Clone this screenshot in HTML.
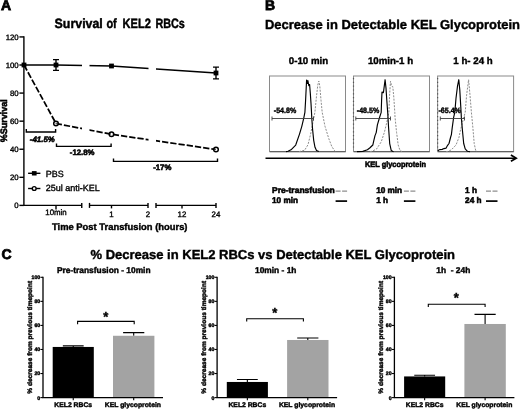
<!DOCTYPE html>
<html lang="en"><head><meta charset="utf-8"><title>Survival of KEL2 RBCs</title>
<style>
html,body{margin:0;padding:0;background:#fff;}
body{width:520px;height:409px;overflow:hidden;}
svg{display:block;filter:blur(0.35px);}
text{font-family:"Liberation Sans",Arial,sans-serif;fill:#000;stroke:#000;stroke-width:0.35px;text-rendering:geometricPrecision;}
.b{font-weight:bold;stroke-width:0.4px;}
.s{stroke-width:0.55px;}
.i{font-style:italic;}
.pl{stroke-width:0.8px;}
.ax{stroke:#000;stroke-width:1.4;fill:none;}
.th{stroke:#000;stroke-width:1.4;fill:none;}
.tc{stroke:#000;stroke-width:1.1;fill:none;}
</style></head><body>
<svg width="520" height="409" viewBox="0 0 520 409">
<rect width="520" height="409" fill="#fff"/>
<g id="panelA">
<text class="b pl" x="0.9" y="10.3" font-size="14">A</text>
<text class="b" x="54.6" y="28.3" font-size="13.5" style="stroke-width:0.45px" textLength="48.2" lengthAdjust="spacingAndGlyphs">Survival</text>
<text class="b" x="106.4" y="28.3" font-size="13.5" style="stroke-width:0.45px" textLength="10.4" lengthAdjust="spacingAndGlyphs">of</text>
<text class="b" x="122.6" y="28.3" font-size="13.5" style="stroke-width:0.45px" textLength="28.2" lengthAdjust="spacingAndGlyphs">KEL2</text>
<text class="b" x="155.4" y="28.3" font-size="13.5" style="stroke-width:0.45px" textLength="29.4" lengthAdjust="spacingAndGlyphs">RBCs</text>
<path class="ax" d="M23.9 36.32V206"/>
<path class="ax" d="M19.4 205.4H23.9"/>
<text x="18.7" y="208.2" font-size="7.8" text-anchor="end">0</text>
<path class="ax" d="M19.4 177.32H23.9"/>
<text x="18.7" y="180.12" font-size="7.8" text-anchor="end">20</text>
<path class="ax" d="M19.4 149.24H23.9"/>
<text x="18.7" y="152.04" font-size="7.8" text-anchor="end">40</text>
<path class="ax" d="M19.4 121.16H23.9"/>
<text x="18.7" y="123.96" font-size="7.8" text-anchor="end">60</text>
<path class="ax" d="M19.4 93.08H23.9"/>
<text x="18.7" y="95.88" font-size="7.8" text-anchor="end">80</text>
<path class="ax" d="M19.4 65H23.9"/>
<text x="18.7" y="67.8" font-size="7.8" text-anchor="end">100</text>
<path class="ax" d="M19.4 36.92H23.9"/>
<text x="18.7" y="39.72" font-size="7.8" text-anchor="end">120</text>
<text class="b s" font-size="9.4" text-anchor="middle" textLength="43" lengthAdjust="spacingAndGlyphs" transform="translate(7.2 120.8) rotate(-90)">%Survival</text>
<path class="ax" d="M23.9 205.4H81.75"/>
<path class="ax" d="M81.75 202.9V207.9"/>
<path class="ax" d="M89.5 205.4H148"/>
<path class="ax" d="M89.5 202.9V207.9"/>
<path class="ax" d="M148 202.9V207.9"/>
<path class="ax" d="M156 205.4H216"/>
<path class="ax" d="M156 202.9V207.9"/>
<path class="ax" d="M216 202.9V207.9"/>
<path class="th" d="M56 205.4V209.4"/>
<path class="th" d="M111.5 205.4V208.4"/>
<path class="th" d="M182 205.4V208.4"/>
<text x="56" y="214.7" font-size="7.9" text-anchor="middle">10min</text>
<text x="111.5" y="216.7" font-size="7.9" text-anchor="middle">1</text>
<text x="148" y="216.7" font-size="7.9" text-anchor="middle">2</text>
<text x="182" y="216.7" font-size="7.9" text-anchor="middle">12</text>
<text x="216" y="216.7" font-size="7.9" text-anchor="middle">24</text>
<text class="b" x="52" y="229.9" font-size="9.4" textLength="135.5" lengthAdjust="spacingAndGlyphs">Time Post Transfusion (hours)</text>
<clipPath id="cA"><rect x="24" y="30" width="58" height="175"/><rect x="89.5" y="30" width="59" height="175"/><rect x="156" y="30" width="66" height="175"/></clipPath>
<g clip-path="url(#cA)">
<polyline class="ax" style="stroke-width:1.6" points="24,65 56,65 111.5,66 216,73"/>
<polyline class="ax" style="stroke-width:1.75" stroke-dasharray="6.3 2" points="24,65 56,123.5 111.5,134.3 216,149.5"/>
</g>
<path class="th" d="M56 59.6V70.4M53 59.6H59M53 70.4H59"/>
<path class="th" d="M216 67.1V78.9M213 67.1H219M213 78.9H219"/>
<rect x="21.6" y="62.6" width="4.8" height="4.8" fill="#000"/>
<rect x="53.6" y="62.6" width="4.8" height="4.8" fill="#000"/>
<rect x="109.1" y="63.6" width="4.8" height="4.8" fill="#000"/>
<rect x="213.6" y="70.6" width="4.8" height="4.8" fill="#000"/>
<circle cx="56" cy="123.5" r="2.3" fill="#fff" fill-opacity="0.35" stroke="#000" stroke-width="1.5"/>
<circle cx="111.5" cy="134.3" r="2.3" fill="#fff" fill-opacity="0.35" stroke="#000" stroke-width="1.5"/>
<circle cx="216" cy="149.5" r="2.3" fill="#fff" fill-opacity="0.35" stroke="#000" stroke-width="1.5"/>
<path class="th" d="M26.3 129V132H55.6V129"/>
<text class="b s i" x="42.3" y="141.8" font-size="7.9" text-anchor="middle">-41.5%</text>
<path class="th" d="M56.5 143.4V146.4H111.1V143.4"/>
<text class="b s" x="82.2" y="154.7" font-size="7.8" text-anchor="middle">-12.8%</text>
<path class="th" d="M113.5 158.4V161.4H217.5V158.4"/>
<text class="b s" x="162.3" y="169.7" font-size="7.8" text-anchor="middle">-17%</text>
<path class="ax" d="M28.1 173.3H40.4"/><rect x="31.9" y="171.1" width="4.7" height="4.4" fill="#000"/>
<text x="45.8" y="176.6" font-size="9">PBS</text>
<path class="ax" d="M28.1 188.5H40.4"/><circle cx="34.2" cy="188.5" r="1.9" fill="#fff" stroke="#000" stroke-width="1.4"/>
<text x="45.8" y="191.3" font-size="9">25ul anti-KEL</text>
</g>
<g id="panelB">
<text class="b pl" x="265" y="10.3" font-size="14">B</text>
<text class="b" x="265" y="28.7" font-size="13" textLength="255" lengthAdjust="spacingAndGlyphs">Decrease in Detectable KEL Glycoprotein</text>
<text class="b" x="308.5" y="63.6" font-size="9.7" text-anchor="middle">0-10 min</text>
<text class="b" x="390.5" y="63.6" font-size="9.7" text-anchor="middle">10min-1 h</text>
<text class="b" x="473" y="63.6" font-size="9.7" text-anchor="middle">1 h- 24 h</text>
<rect x="269.5" y="76" width="76" height="75.7" fill="#fff" stroke="#8a8a8a" stroke-width="1"/>
<path d="M270.0 151.7H345.5" stroke="#555" stroke-width="1" fill="none"/>
<rect x="353.5" y="76" width="76" height="75.7" fill="#fff" stroke="#8a8a8a" stroke-width="1"/>
<path d="M354.0 151.7H429.5" stroke="#555" stroke-width="1" fill="none"/>
<rect x="437.6" y="76" width="76" height="75.7" fill="#fff" stroke="#8a8a8a" stroke-width="1"/>
<path d="M438.1 151.7H513.6" stroke="#555" stroke-width="1" fill="none"/>
<path d="M353.5 78V150" stroke="#555" stroke-width="1.2" stroke-dasharray="1.2 2.6" fill="none"/>
<path d="M437.6 78V150" stroke="#555" stroke-width="1.2" stroke-dasharray="1.2 2.6" fill="none"/>
<polyline fill="none" stroke="#8c8c8c" stroke-width="1" stroke-dasharray="2 1.3" stroke-linejoin="round" points="299,151.6 304.6,150.29 308,144.72 310.5,134.61 312.5,124.5 314.9,112.36 316.5,96.18 317.8,85.06 318.8,81.01 319.8,86.07 321,100.23 322.2,112.36 325,126.32 328.8,138.66 331.8,146.54 335,151.3"/>
<polyline fill="none" stroke="#000" stroke-width="1.15" stroke-linejoin="round" points="286,151.6 288,151.3 291,149.78 295.7,145.03 299.5,134.1 301.8,126.32 303.7,118.43 304.9,112.36 305.6,100.23 306.2,88.09 306.6,80 307.4,83.54 307.9,80.51 308.8,85.56 309.6,84.55 310.3,93.15 311,103.26 311.5,112.36 311.8,118.43 312.6,129.55 313.7,140.37 315,147.35 316.5,150.49 318.8,151.6"/>
<polyline fill="none" stroke="#8c8c8c" stroke-width="1" stroke-dasharray="2 1.3" stroke-linejoin="round" points="370,151.6 372,151.3 376.6,148.97 381.2,141.89 384.3,132.59 386.6,123.28 388.9,112.36 389.6,95.17 390.5,81.21 391.6,86.07 392.8,86.67 393.8,97.19 394.8,112.36 395,117.01 396.6,132.59 398.2,145.03 400,150.49 402,151.6"/>
<polyline fill="none" stroke="#000" stroke-width="1.15" stroke-linejoin="round" points="357,151.6 362.8,151.4 367.4,149.78 370,147.76 372.8,145.03 373.8,140.68 375,135.62 376.2,132.59 377.4,124.8 379.7,117.01 381.2,112.36 381.6,100.23 382,92.14 383.4,92.64 384.4,85.06 385.1,79.7 386,88.09 386.8,100.23 387.7,112.36 388.6,127.94 389.7,143.51 391.2,150.49 393.5,151.8"/>
<polyline fill="none" stroke="#8c8c8c" stroke-width="1" stroke-dasharray="2 1.3" stroke-linejoin="round" points="446,151.6 448.3,151.4 451.4,149.78 456,145.03 459,137.24 460.6,129.55 463,120.45 465.2,112.36 466.6,95.17 468.6,79.7 470,95.17 471.4,112.36 472.9,127.94 474.2,143.51 475.7,150.49 477,151.6"/>
<polyline fill="none" stroke="#000" stroke-width="1.15" stroke-linejoin="round" points="437.8,150.99 439,149.78 442.2,149.38 444,148.57 446,148.16 447.6,145.33 449,143.51 450.6,137.24 451.4,134.61 452.2,127.94 453.7,117.01 454.8,112.36 456,98.2 457.5,86.07 458.8,79.7 459.8,90.11 461.1,112.36 461.4,118.43 462.5,131.07 463.7,143.51 465.2,148.97 467.5,151.3 470,151.8"/>
<path d="M272 118.5H313.5M272 116.5V120.5M313.5 116.5V120.5" stroke="#3c3c3c" stroke-width="0.9" fill="none"/>
<text class="b" x="273.8" y="113.2" font-size="7.8" textLength="22.4" lengthAdjust="spacingAndGlyphs">-54.8%</text>
<path d="M355.8 118.5H390.5M355.8 116.5V120.5M390.5 116.5V120.5" stroke="#3c3c3c" stroke-width="0.9" fill="none"/>
<text class="b" x="356.8" y="113.2" font-size="7.8" textLength="22.4" lengthAdjust="spacingAndGlyphs">-48.5%</text>
<path d="M440.3 118.5H464.5M440.3 116.5V120.5M464.5 116.5V120.5" stroke="#3c3c3c" stroke-width="0.9" fill="none"/>
<text class="b" x="438.5" y="113.2" font-size="7.8" textLength="22.4" lengthAdjust="spacingAndGlyphs">-65.4%</text>
<path d="M265.5 158.2H515.8" stroke="#000" stroke-width="1.5" fill="none"/>
<path d="M510.9 155.1L516.2 158.2L510.9 161.3" stroke="#000" stroke-width="1.7" fill="none"/>
<text class="b s" x="365" y="167.4" font-size="8" textLength="61" lengthAdjust="spacingAndGlyphs">KEL glycoprotein</text>
<text class="b s" x="272" y="193" font-size="8.5">Pre-transfusion</text>
<text class="b s" x="272" y="203" font-size="8.2">10 min</text>
<path d="M335.6 191.1H347.1" stroke="#8e8e8e" stroke-width="1.3" stroke-dasharray="5 1.5" fill="none"/>
<path d="M335.6 201.1H347.1" stroke="#000" stroke-width="1.7" fill="none"/>
<text class="b s" x="376.2" y="193" font-size="8.2">10 min</text>
<text class="b s" x="376.2" y="203" font-size="8.2">1 h</text>
<path d="M403.9 191.1H415.4" stroke="#8e8e8e" stroke-width="1.3" stroke-dasharray="5 1.5" fill="none"/>
<path d="M403.9 201.1H415.4" stroke="#000" stroke-width="1.7" fill="none"/>
<text class="b s" x="465.1" y="193" font-size="8.2">1 h</text>
<text class="b s" x="465.1" y="203" font-size="8.2">24 h</text>
<path d="M486 191.1H497.5" stroke="#8e8e8e" stroke-width="1.3" stroke-dasharray="5 1.5" fill="none"/>
<path d="M486 201.1H497.5" stroke="#000" stroke-width="1.7" fill="none"/>
</g>
<g id="panelC">
<text class="b pl" x="1.5" y="258.7" font-size="14">C</text>
<text class="b" x="90.5" y="258.7" font-size="13" textLength="364.5" lengthAdjust="spacingAndGlyphs">% Decrease in KEL2 RBCs vs Detectable KEL Glycoprotein</text>
<text class="b" x="57" y="273.4" font-size="8.4">Pre-transfusion - 10min</text>
<text class="b" x="255" y="273.4" font-size="8.4">10min - 1h</text>
<text class="b" x="436.3" y="273.4" font-size="8.4" xml:space="preserve">1h  - 24h</text>
<path class="tc" d="M73.25 346.95V345.87M62.85 345.87H83.65"/>
<path class="tc" d="M133.7 335.77V332.64M123.1 332.64H144.3"/>
<rect x="52.7" y="346.95" width="41.1" height="50.65" fill="#000"/>
<rect x="113" y="335.77" width="41.4" height="61.83" fill="#a3a3a3"/>
<path class="ax" style="stroke-width:1.3" d="M43 276.8V397.6H163"/>
<path class="tc" d="M40.4 397.6H43"/>
<text class="b" x="40.2" y="399.5" font-size="5.2" text-anchor="end">0</text>
<path class="tc" d="M40.4 373.54H43"/>
<text class="b" x="40.2" y="375.44" font-size="5.2" text-anchor="end">20</text>
<path class="tc" d="M40.4 349.48H43"/>
<text class="b" x="40.2" y="351.38" font-size="5.2" text-anchor="end">40</text>
<path class="tc" d="M40.4 325.42H43"/>
<text class="b" x="40.2" y="327.32" font-size="5.2" text-anchor="end">60</text>
<path class="tc" d="M40.4 301.36H43"/>
<text class="b" x="40.2" y="303.26" font-size="5.2" text-anchor="end">80</text>
<path class="tc" d="M40.4 277.3H43"/>
<text class="b" x="40.2" y="279.2" font-size="5.2" text-anchor="end">100</text>
<path class="tc" d="M73.25 397.6V400.2M133.7 397.6V400.2"/>
<text class="b" x="73.25" y="407.2" font-size="6.8" text-anchor="middle">KEL2 RBCs</text>
<text class="b" x="132.9" y="407.2" font-size="6.8" text-anchor="middle">KEL glycoprotein</text>
<text class="b" font-size="6.55" text-anchor="middle" transform="translate(31.7 337.3) rotate(-90)">% decrease from previous timepoint</text>
<path class="tc" d="M77.6 324.2V321.4H134.2V324.2"/>
<text class="b" x="105.7" y="321" font-size="13" text-anchor="middle">*</text>
<path class="tc" d="M247.35 381.96V379.43M236.95 379.43H257.75"/>
<path class="tc" d="M307.8 339.98V338.05M297.2 338.05H318.4"/>
<rect x="226.8" y="381.96" width="41.1" height="15.64" fill="#000"/>
<rect x="287.1" y="339.98" width="41.4" height="57.62" fill="#a3a3a3"/>
<path class="ax" style="stroke-width:1.3" d="M217.1 276.8V397.6H337.1"/>
<path class="tc" d="M214.5 397.6H217.1"/>
<text class="b" x="214.3" y="399.5" font-size="5.2" text-anchor="end">0</text>
<path class="tc" d="M214.5 373.54H217.1"/>
<text class="b" x="214.3" y="375.44" font-size="5.2" text-anchor="end">20</text>
<path class="tc" d="M214.5 349.48H217.1"/>
<text class="b" x="214.3" y="351.38" font-size="5.2" text-anchor="end">40</text>
<path class="tc" d="M214.5 325.42H217.1"/>
<text class="b" x="214.3" y="327.32" font-size="5.2" text-anchor="end">60</text>
<path class="tc" d="M214.5 301.36H217.1"/>
<text class="b" x="214.3" y="303.26" font-size="5.2" text-anchor="end">80</text>
<path class="tc" d="M214.5 277.3H217.1"/>
<text class="b" x="214.3" y="279.2" font-size="5.2" text-anchor="end">100</text>
<path class="tc" d="M247.35 397.6V400.2M307.8 397.6V400.2"/>
<text class="b" x="247.35" y="407.2" font-size="6.8" text-anchor="middle">KEL2 RBCs</text>
<text class="b" x="307" y="407.2" font-size="6.8" text-anchor="middle">KEL glycoprotein</text>
<text class="b" font-size="6.55" text-anchor="middle" transform="translate(205.8 337.3) rotate(-90)">% decrease from previous timepoint</text>
<path class="tc" d="M246.7 321.6V318.8H303.4V321.6"/>
<text class="b" x="274.8" y="317" font-size="13" text-anchor="middle">*</text>
<path class="tc" d="M424.65 376.43V375.22M414.25 375.22H435.05"/>
<path class="tc" d="M485.1 323.98V314.35M474.5 314.35H495.7"/>
<rect x="404.1" y="376.43" width="41.1" height="21.17" fill="#000"/>
<rect x="464.4" y="323.98" width="41.4" height="73.62" fill="#a3a3a3"/>
<path class="ax" style="stroke-width:1.3" d="M394.4 276.8V397.6H514.4"/>
<path class="tc" d="M391.8 397.6H394.4"/>
<text class="b" x="391.6" y="399.5" font-size="5.2" text-anchor="end">0</text>
<path class="tc" d="M391.8 373.54H394.4"/>
<text class="b" x="391.6" y="375.44" font-size="5.2" text-anchor="end">20</text>
<path class="tc" d="M391.8 349.48H394.4"/>
<text class="b" x="391.6" y="351.38" font-size="5.2" text-anchor="end">40</text>
<path class="tc" d="M391.8 325.42H394.4"/>
<text class="b" x="391.6" y="327.32" font-size="5.2" text-anchor="end">60</text>
<path class="tc" d="M391.8 301.36H394.4"/>
<text class="b" x="391.6" y="303.26" font-size="5.2" text-anchor="end">80</text>
<path class="tc" d="M391.8 277.3H394.4"/>
<text class="b" x="391.6" y="279.2" font-size="5.2" text-anchor="end">100</text>
<path class="tc" d="M424.65 397.6V400.2M485.1 397.6V400.2"/>
<text class="b" x="424.65" y="407.2" font-size="6.8" text-anchor="middle">KEL2 RBCs</text>
<text class="b" x="484.3" y="407.2" font-size="6.8" text-anchor="middle">KEL glycoprotein</text>
<text class="b" font-size="6.55" text-anchor="middle" transform="translate(383.1 337.3) rotate(-90)">% decrease from previous timepoint</text>
<path class="tc" d="M428.3 307.0V304.2H485.1V307.0"/>
<text class="b" x="456.4" y="302.4" font-size="13" text-anchor="middle">*</text>
</g>
</svg>
</body></html>
